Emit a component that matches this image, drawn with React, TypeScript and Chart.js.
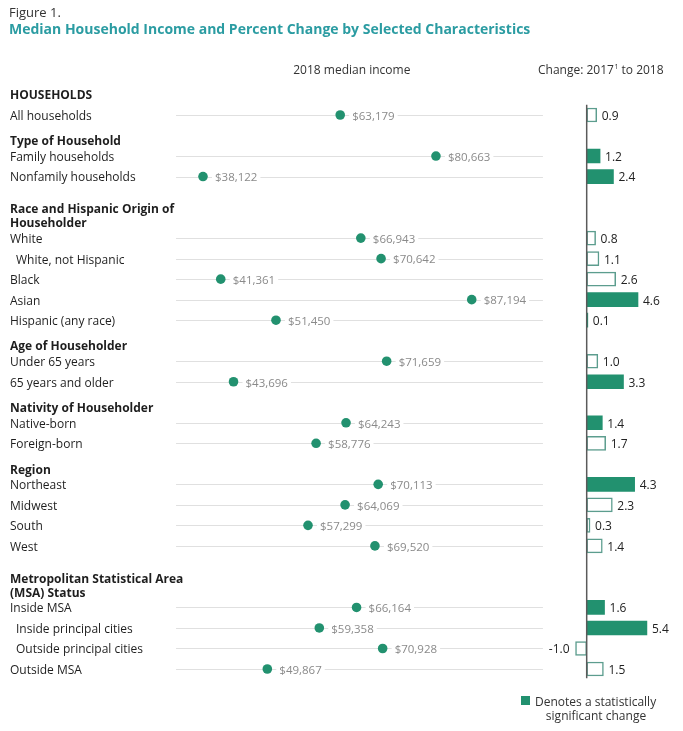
import React, { useEffect, useRef } from "react";
import { Chart, registerables } from "chart.js";

Chart.register(...registerables);

// ---- Data ----
const categories = [
  "All households",
  "Family households",
  "Nonfamily households",
  "White",
  "White, not Hispanic",
  "Black",
  "Asian",
  "Hispanic (any race)",
  "Under 65 years",
  "65 years and older",
  "Native-born",
  "Foreign-born",
  "Northeast",
  "Midwest",
  "South",
  "West",
  "Inside MSA",
  "Inside principal cities",
  "Outside principal cities",
  "Outside MSA",
];
const rowPositions = [1, 3, 4, 7, 8, 9, 10, 11, 13, 14, 16, 17, 19, 20, 21, 22, 25, 26, 27, 28];
const indented = [false, false, false, false, true, false, false, false, false, false, false, false, false, false, false, false, false, true, true, false];
const incomes = [63179, 80663, 38122, 66943, 70642, 41361, 87194, 51450, 71659, 43696, 64243, 58776, 70113, 64069, 57299, 69520, 66164, 59358, 70928, 49867];
const changes = [0.9, 1.2, 2.4, 0.8, 1.1, 2.6, 4.6, 0.1, 1.0, 3.3, 1.4, 1.7, 4.3, 2.3, 0.3, 1.4, 1.6, 5.4, -1.0, 1.5];
const significant = [false, true, true, false, false, false, true, true, false, true, true, false, true, false, false, false, true, true, false, false];
const headerLabels = [
  "HOUSEHOLDS",
  "Type of Household",
  "Race and Hispanic Origin of",
  "Householder",
  "Age of Householder",
  "Nativity of Householder",
  "Region",
  "Metropolitan Statistical Area",
  "(MSA) Status",
];
const headerPositions = [0, 2.22, 5.53, 6.21, 12.21, 15.23, 18.25, 23.56, 24.24];

const FONT = "'Open Sans', sans-serif";
const GREEN = "#22916f";
const OUTLINE = "#5c9d8e";
const TEAL = "#2b9ca2";
const GRID_MIN = 33200;
const GRID_MAX = 100200;
const DY = 1.5; // text vertical nudge

const fmtMoney = (v: number) => "$" + v.toLocaleString("en-US");

const overlay = {
  id: "overlay",
  beforeDatasetsDraw(chart: any) {
    const ctx = chart.ctx as CanvasRenderingContext2D;
    const x = chart.scales.x;
    const y = chart.scales.y;
    const gl = x.getPixelForValue(GRID_MIN);
    const gr = x.getPixelForValue(GRID_MAX);
    ctx.save();
    ctx.strokeStyle = "#e0e0e0";
    ctx.lineWidth = 1;
    rowPositions.forEach((p) => {
      const py = Math.round(y.getPixelForValue(p)) + 0.5;
      ctx.beginPath();
      ctx.moveTo(gl, py);
      ctx.lineTo(gr, py);
      ctx.stroke();
    });
    ctx.font = `11.5px ${FONT}`;
    ctx.textBaseline = "middle";
    ctx.textAlign = "left";
    incomes.forEach((v, i) => {
      const px = x.getPixelForValue(v) + 12;
      const py = y.getPixelForValue(rowPositions[i]);
      const t = fmtMoney(v);
      const w = ctx.measureText(t).width;
      ctx.fillStyle = "#ffffff";
      ctx.fillRect(px - 3, py - 6, w + 6, 12);
      ctx.fillStyle = "#8a8a8a";
      ctx.fillText(t, px, py + DY);
    });
    ctx.restore();
  },
  afterDatasetsDraw(chart: any) {
    const ctx = chart.ctx as CanvasRenderingContext2D;
    const x2 = chart.scales.x2;
    const x = chart.scales.x;
    const y = chart.scales.y;
    ctx.save();

    // zero axis line of change panel
    const zx = x2.getPixelForValue(0);
    ctx.strokeStyle = "#5a5a5a";
    ctx.lineWidth = 1.5;
    ctx.beginPath();
    ctx.moveTo(zx, y.getPixelForValue(0.5));
    ctx.lineTo(zx, y.getPixelForValue(28.45));
    ctx.stroke();

    // change value labels
    ctx.font = `12px ${FONT}`;
    ctx.textBaseline = "middle";
    ctx.fillStyle = "#222";
    changes.forEach((v, i) => {
      const py = y.getPixelForValue(rowPositions[i]);
      const end = x2.getPixelForValue(v);
      const t = v.toFixed(1);
      if (v < 0) {
        ctx.textAlign = "right";
        ctx.fillText(t, end - 6, py + DY);
      } else {
        ctx.textAlign = "left";
        ctx.fillText(t, end + 5, py + DY);
      }
    });

    // row labels
    ctx.textAlign = "left";
    ctx.fillStyle = "#1e1e1e";
    ctx.font = `12px ${FONT}`;
    categories.forEach((c, i) => {
      ctx.fillText(c, indented[i] ? 16 : 10, y.getPixelForValue(rowPositions[i]) + DY);
    });
    ctx.font = `bold 12px ${FONT}`;
    headerLabels.forEach((h, i) => {
      ctx.fillText(h, 10, y.getPixelForValue(headerPositions[i]) + DY);
    });

    // titles
    ctx.fillStyle = "#333";
    ctx.font = `13px ${FONT}`;
    ctx.fillText("Figure 1.", 9, 12 + DY);
    ctx.fillStyle = TEAL;
    ctx.font = `bold 14px ${FONT}`;
    ctx.fillText("Median Household Income and Percent Change by Selected Characteristics", 9, 29 + DY);

    // panel headers
    ctx.fillStyle = "#333";
    ctx.font = `12px ${FONT}`;
    ctx.textAlign = "center";
    ctx.fillText("2018 median income", x.getPixelForValue(65300), 69 + DY);
    ctx.textAlign = "left";
    let cx = 538;
    const p1 = "Change: 2017";
    ctx.fillText(p1, cx, 69 + DY);
    cx += ctx.measureText(p1).width + 0.5;
    ctx.font = `7px ${FONT}`;
    ctx.fillText("1", cx, 65 + DY);
    cx += ctx.measureText("1").width;
    ctx.font = `12px ${FONT}`;
    ctx.fillText(" to 2018", cx, 69 + DY);

    // legend
    ctx.fillStyle = GREEN;
    ctx.fillRect(521, 696, 9, 9);
    ctx.fillStyle = "#333";
    ctx.fillText("Denotes a statistically", 535, 701 + DY);
    ctx.textAlign = "center";
    ctx.fillText("significant change", 596, 715 + DY);

    ctx.restore();
  },
};

export default function App() {
  const canvasRef = useRef<HTMLCanvasElement | null>(null);

  useEffect(() => {
    if (!canvasRef.current) return;
    const chart = new Chart(canvasRef.current, {
      type: "bar",
      data: {
        datasets: [
          {
            type: "scatter" as any,
            label: "2018 median income",
            data: incomes.map((v, i) => ({ x: v, y: rowPositions[i] })),
            xAxisID: "x",
            yAxisID: "y",
            backgroundColor: GREEN,
            borderColor: GREEN,
            pointRadius: 4.8,
            pointBorderWidth: 0,
          } as any,
          {
            type: "bar",
            label: "Change",
            data: changes.map((v, i) => ({ x: v, y: rowPositions[i] })),
            xAxisID: "x2",
            yAxisID: "y",
            indexAxis: "y",
            barThickness: 14,
            backgroundColor: significant.map((s) => (s ? GREEN : "#ffffff")),
            borderColor: significant.map((s) => (s ? GREEN : OUTLINE)),
            borderWidth: significant.map((s) => (s ? 0 : 1.5)),
            borderSkipped: false,
          } as any,
        ],
      },
      options: {
        animation: false,
        responsive: true,
        maintainAspectRatio: false,
        indexAxis: "y",
        layout: { padding: { left: 178, right: 23, top: 73.96, bottom: 41.48 } },
        plugins: {
          legend: { display: false },
          title: { display: false },
          tooltip: { enabled: false },
        },
        scales: {
          x: { type: "linear", display: false, offset: false, min: 33557, max: 121577 },
          x2: { type: "linear", display: false, offset: false, min: -36.65, max: 6.574 },
          y: { type: "linear", display: false, offset: false, grace: 0, min: -1, max: 29, reverse: true },
        },
      } as any,
      plugins: [overlay],
    });
    return () => chart.destroy();
  }, []);

  return (
    <div style={{ position: "absolute", left: 0, top: 0, width: 683, height: 731, background: "#fff" }}>
      <canvas ref={canvasRef} />
    </div>
  );
}
